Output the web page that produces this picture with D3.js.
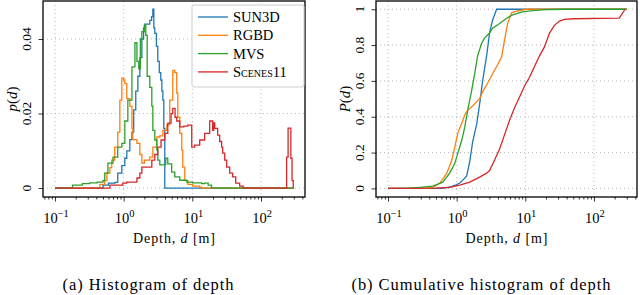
<!DOCTYPE html>
<html>
<head>
<meta charset="utf-8">
<script src="https://cdn.jsdelivr.net/npm/d3@7"></script>
<style>
  body { margin: 0; background: #fff; }
  svg { font-family: "Liberation Serif", "DejaVu Serif", serif; }
</style>
</head>
<body>
<div class="chart"></div>
<script>
var svgWidth = 640;
var svgHeight = 295;

var seriesNames = ["SUN3D", "RGBD", "MVS", "Scenes11"];
var seriesColors = ["#1f77b4", "#ff7f0e", "#2ca02c", "#d62728"];

// histogram of depth: [depth in m, p(d)]
var sun3dHist = [[0.1,0],[0.45,0],[0.5,0.0008],[0.6,0.0013],[0.75,0.0015],[0.82,0.004],[0.94,0.006],[1.04,0.008],
  [1.11,0.010],[1.23,0.013],[1.32,0.015],[1.4,0.021],[1.5,0.026],[1.61,0.030],[1.72,0.035],[1.84,0.040],[1.95,0.043],
  [2.03,0.044],[2.2,0.044],[2.4,0.045],[2.55,0.046],[2.66,0.048],[2.75,0.043],[2.84,0.0415],[3.0,0.038],[3.14,0.034],
  [3.3,0.031],[3.47,0.029],[3.6,0.026],[3.72,0.0236],[3.84,0.016],[3.97,0],[300,0]];
var rgbdHist = [[0.1,0],[0.38,0],[0.45,0.001],[0.53,0.002],[0.57,0.004],[0.63,0.0055],[0.67,0.0075],[0.74,0.011],
  [0.82,0.015],[0.88,0.0236],[0.94,0.0295],[1.0,0.029],[1.04,0.028],[1.11,0.024],[1.23,0.022],[1.32,0.016],[1.36,0.013],
  [1.56,0.012],[1.72,0.009],[1.84,0.0067],[2.0,0.0075],[2.4,0.0083],[2.66,0.011],[3.04,0.0137],[3.36,0.014],
  [3.72,0.0155],[4.25,0.017],[4.69,0.0236],[5.19,0.0316],[5.55,0.031],[5.93,0.0255],[6.14,0.019],[6.56,0.0147],
  [7.01,0.0102],[7.25,0.0056],[7.76,0.002],[8.6,0.001],[10.1,0.0005],[12.8,0.0002],[14,0],[300,0]];
var mvsHist = [[0.1,0],[0.15,0],[0.18,0.0008],[0.25,0.0012],[0.32,0.0014],[0.41,0.0016],[0.5,0.002],[0.53,0.004],
  [0.59,0.0067],[0.7,0.0083],[0.82,0.011],[0.94,0.012],[1.04,0.018],[1.15,0.0236],[1.32,0.0325],[1.46,0.039],
  [1.56,0.034],[1.66,0.032],[1.75,0.040],[1.84,0.042],[2.0,0.0437],[2.1,0.041],[2.2,0.030],[2.4,0.027],[2.57,0.022],
  [2.66,0.0155],[2.84,0.0129],[3.04,0.0102],[3.14,0.0075],[3.36,0.0062],[4.1,0.008],[4.39,0.0065],[5.0,0.0043],
  [5.55,0.003],[6.56,0.0021],[8.3,0.0016],[10.1,0.0014],[13.7,0.0012],[15.1,0.0013],[17,0.0008],[19,0],[300,0]];
var scenes11Hist = [[0.1,0],[0.6,0],[0.63,0.0008],[0.97,0.0013],[1.1,0.0016],[1.56,0.0027],[1.72,0.004],
  [1.84,0.0056],[2.57,0.0075],[2.84,0.009],[3.14,0.011],[3.5,0.0129],[3.97,0.0147],[4.39,0.0174],[4.9,0.020],
  [5.19,0.0214],[5.6,0.019],[5.93,0.018],[6.56,0.0164],[7.5,0.0166],[8.6,0.0169],[9.8,0.011],[10.8,0.0115],
  [12.8,0.0129],[15.1,0.0147],[17.9,0.018],[19.8,0.0155],[20.5,0.0175],[21.2,0.016],[23.4,0.0142],[25,0.0125],
  [26.7,0.011],[27.7,0.0094],[29.6,0.0075],[31.6,0.0056],[35,0.004],[38.7,0.003],[42.8,0.0013],[48.9,0.0005],
  [55,0],[236,0.0083],[248,0.0161],[272,0.008],[283,0.002],[295,0]];

// cumulative histogram: [depth in m, P(d)]
var sun3dCum = [[0.1,0],[0.6,0],[0.72,0.005],[0.84,0.01],[0.98,0.02],[1.11,0.03],[1.23,0.046],[1.4,0.07],
  [1.55,0.15],[1.71,0.26],[1.96,0.36],[2.16,0.47],[2.39,0.6],[2.73,0.74],[3.02,0.87],[3.34,0.94],[3.82,1],[300,1]];
var rgbdCum = [[0.1,0],[0.35,0],[0.45,0.006],[0.57,0.03],[0.72,0.085],[0.85,0.158],[0.94,0.23],[1.04,0.31],
  [1.19,0.365],[1.31,0.41],[1.45,0.437],[1.71,0.46],[2.02,0.49],[2.16,0.5],[2.39,0.54],[2.73,0.577],[3.34,0.64],
  [3.95,0.69],[4.52,0.735],[4.99,0.83],[5.52,0.92],[6.31,0.98],[7.45,0.99],[10.4,1],[300,1]];
var mvsCum = [[0.1,0],[0.2,0.002],[0.29,0.006],[0.45,0.013],[0.63,0.035],[0.79,0.085],[0.94,0.14],[1.04,0.197],
  [1.19,0.27],[1.31,0.34],[1.45,0.437],[1.66,0.55],[1.83,0.64],[2.02,0.74],[2.31,0.81],[2.56,0.84],[3.02,0.867],
  [3.34,0.894],[4.22,0.92],[5.33,0.95],[6.52,0.968],[9.1,0.985],[12.7,0.992],[20.3,0.998],[40,1],[300,1]];
var scenes11Cum = [[0.1,0],[0.5,0.001],[0.79,0.006],[1.11,0.018],[1.55,0.035],[2.16,0.063],[2.73,0.085],
  [3.02,0.1],[3.57,0.158],[4.22,0.22],[4.99,0.3],[5.9,0.38],[6.97,0.45],[8.24,0.51],[9.7,0.57],[11.5,0.62],
  [13.6,0.68],[16.1,0.74],[19,0.79],[22.5,0.867],[26.5,0.91],[31.4,0.934],[37,0.944],[50,0.947],[233,0.95],[284,1]];

// ticks
var xMajorTicks = [0.1, 1, 10, 100];
var xMajorExps = ["\u22121", "0", "1", "2"];
var histYTicks = [0, 0.02, 0.04];
var histYLabels = ["0", "0.02", "0.04"];
var cumYTicks = [0, 0.2, 0.4, 0.6, 0.8, 1];
var cumYLabels = ["0", "0.2", "0.4", "0.6", "0.8", "1"];

var svg = d3.select(".chart")
  .append("svg")
  .attr("width", svgWidth)
  .attr("height", svgHeight);

function drawPanel(cfg) {
  var x = d3.scaleLog().domain(cfg.xDomain).range([cfg.left, cfg.right]);
  var y = d3.scaleLinear().domain(cfg.yDomain).range([cfg.bottom, cfg.top]);
  var g = svg.append("g");

  // dotted grid
  g.selectAll(".vgrid").data(xMajorTicks).enter().append("line")
    .attr("x1", d => x(d)).attr("x2", d => x(d))
    .attr("y1", cfg.top).attr("y2", cfg.bottom)
    .attr("stroke", "#b8b8b8").attr("stroke-width", 1).attr("stroke-dasharray", "1,3");
  g.selectAll(".hgrid").data(cfg.yTicks).enter().append("line")
    .attr("x1", cfg.left).attr("x2", cfg.right)
    .attr("y1", d => y(d)).attr("y2", d => y(d))
    .attr("stroke", "#b8b8b8").attr("stroke-width", 1).attr("stroke-dasharray", "1,3");

  // clip the lines to the frame
  svg.append("clipPath").attr("id", cfg.id)
    .append("rect")
    .attr("x", cfg.left).attr("y", cfg.top)
    .attr("width", cfg.right - cfg.left).attr("height", cfg.bottom - cfg.top);

  var line = d3.line()
    .x(d => x(d[0]))
    .y(d => y(d[1]))
    .curve(cfg.curve);

  g.append("g").attr("clip-path", "url(#" + cfg.id + ")")
    .selectAll("path").data(cfg.series).enter().append("path")
    .attr("d", d => line(d))
    .attr("fill", "none")
    .attr("stroke", (d, i) => seriesColors[i])
    .attr("stroke-width", 1.3)
    .attr("stroke-linejoin", "miter");

  // minor and major x ticks
  var minorTicks = x.ticks().filter(t => xMajorTicks.indexOf(t) < 0);
  var xMinor = d3.axisBottom(x).tickValues(minorTicks).tickSize(2.5).tickFormat("");
  var xMajor = d3.axisBottom(x).tickValues(xMajorTicks).tickSize(4.5).tickFormat("");
  [xMinor, xMajor].forEach(function(ax) {
    var a = g.append("g").attr("transform", `translate(0, ${cfg.bottom})`).call(ax);
    a.select(".domain").remove();
    a.selectAll("line").attr("stroke", "#000").attr("stroke-width", 0.8);
  });

  var xl = g.selectAll(".xlab").data(xMajorTicks).enter().append("text")
    .attr("x", d => x(d) + 1)
    .attr("y", cfg.bottom + 26)
    .attr("text-anchor", "middle")
    .style("font-size", "14.5px");
  xl.append("tspan").text("10");
  xl.append("tspan").attr("dy", -6).style("font-size", "10.5px").text((d, i) => xMajorExps[i]);

  // y ticks
  var yAx = d3.axisLeft(y).tickValues(cfg.yTicks).tickSize(4.5).tickFormat("");
  var ya = g.append("g").attr("transform", `translate(${cfg.left}, 0)`).call(yAx);
  ya.select(".domain").remove();
  ya.selectAll("line").attr("stroke", "#000").attr("stroke-width", 0.8);

  g.selectAll(".ylab").data(cfg.yTicks).enter().append("text")
    .attr("transform", d => `translate(${cfg.left - 12}, ${y(d)}) rotate(-90)`)
    .attr("text-anchor", "middle")
    .style("font-size", "13.5px")
    .text((d, i) => cfg.yLabels[i]);

  // frame
  g.append("rect")
    .attr("x", cfg.left).attr("y", cfg.top)
    .attr("width", cfg.right - cfg.left).attr("height", cfg.bottom - cfg.top)
    .attr("fill", "none").attr("stroke", "#000").attr("stroke-width", 1.3);

  // axis titles
  var xt = g.append("text")
    .attr("x", (cfg.left + cfg.right) / 2)
    .attr("y", cfg.bottom + 46)
    .attr("text-anchor", "middle")
    .attr("textLength", 82)
    .attr("lengthAdjust", "spacing")
    .style("font-size", "14px");
  xt.append("tspan").text("Depth, ");
  xt.append("tspan").style("font-style", "italic").text("d");
  xt.append("tspan").text(" [m]");

  var yt = g.append("text")
    .attr("transform", `translate(${cfg.left - 26}, ${(cfg.top + cfg.bottom) / 2}) rotate(-90)`)
    .attr("text-anchor", "middle")
    .style("font-size", "15px");
  yt.append("tspan").style("font-style", "italic").text(cfg.yName);
  yt.append("tspan").text("(");
  yt.append("tspan").style("font-style", "italic").text("d");
  yt.append("tspan").text(")");

  // caption
  g.append("text")
    .attr("x", cfg.captionX)
    .attr("y", 290)
    .attr("text-anchor", "middle")
    .attr("textLength", cfg.captionLen)
    .attr("lengthAdjust", "spacing")
    .style("font-size", "16.5px")
    .text(cfg.caption);

  return g;
}

var histPanel = drawPanel({
  id: "clipHist", left: 43, right: 305, top: 1, bottom: 197,
  xDomain: [0.0669, 437], yDomain: [-0.0024, 0.0502],
  yTicks: histYTicks, yLabels: histYLabels, yName: "p",
  series: [sun3dHist, rgbdHist, mvsHist, scenes11Hist],
  curve: d3.curveStepAfter,
  caption: "(a) Histogram of depth", captionX: 148, captionLen: 171
});

drawPanel({
  id: "clipCum", left: 376, right: 637, top: 1, bottom: 197,
  xDomain: [0.0669, 423], yDomain: [-0.048, 1.046],
  yTicks: cumYTicks, yLabels: cumYLabels, yName: "P",
  series: [sun3dCum, rgbdCum, mvsCum, scenes11Cum],
  curve: d3.curveLinear,
  caption: "(b) Cumulative histogram of depth", captionX: 481, captionLen: 259
});

// legend in the histogram panel
var legend = histPanel.append("g").attr("transform", "translate(192, 5)");
legend.append("rect")
  .attr("width", 112).attr("height", 82).attr("rx", 2)
  .attr("fill", "#fff").attr("fill-opacity", 0.9)
  .attr("stroke", "#cccccc").attr("stroke-width", 1);

var items = legend.selectAll(".item").data(seriesNames).enter().append("g")
  .attr("transform", (d, i) => `translate(0, ${12 + i * 18.3})`);
items.append("line")
  .attr("x1", 6).attr("x2", 36)
  .attr("stroke", (d, i) => seriesColors[i])
  .attr("stroke-width", 1.3);
items.append("text")
  .attr("x", 41).attr("y", 5)
  .style("font-size", "14.5px")
  .style("font-variant", (d, i) => i === 3 ? "small-caps" : "normal")
  .text(d => d);
</script>
</body>
</html>
